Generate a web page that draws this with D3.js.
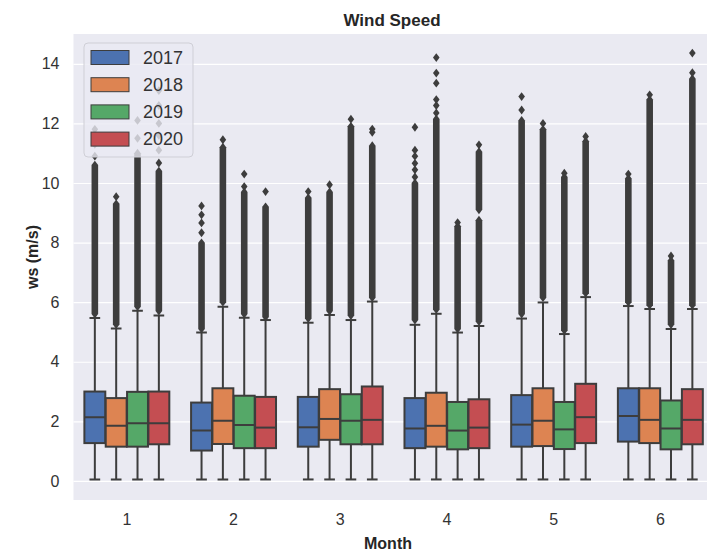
<!DOCTYPE html>
<html>
<head>
<meta charset="utf-8">
<script src="https://cdn.jsdelivr.net/npm/d3@7"></script>
<style>
  html, body { margin: 0; padding: 0; background: #ffffff; }
  svg { display: block; font-family: "Liberation Sans", Arial, sans-serif; }
</style>
</head>
<body>
<svg id="chart" width="707" height="552"></svg>
<script>
// Hourly wind speed by month, one box per year
const months = ["1", "2", "3", "4", "5", "6"];
const years = ["2017", "2018", "2019", "2020"];
const yearColors = ["#4c72b0", "#dd8452", "#55a868", "#c44e52"];
const yTicks = [0, 2, 4, 6, 8, 10, 12, 14];

// box statistics, rows = month, columns = year
const q1 = [
  [1.27, 1.15, 1.15, 1.23],
  [1.02, 1.24, 1.10, 1.10],
  [1.15, 1.38, 1.23, 1.23],
  [1.10, 1.15, 1.06, 1.10],
  [1.15, 1.17, 1.07, 1.27],
  [1.32, 1.27, 1.06, 1.23]
];
const medians = [
  [2.14, 1.85, 1.94, 1.94],
  [1.69, 2.02, 1.88, 1.79],
  [1.80, 2.08, 2.02, 2.05],
  [1.76, 1.85, 1.69, 1.79],
  [1.89, 2.02, 1.73, 2.14],
  [2.18, 2.05, 1.76, 2.05]
];
const q3 = [
  [3.00, 2.78, 2.99, 3.00],
  [2.63, 3.11, 2.86, 2.82],
  [2.82, 3.08, 2.91, 3.17],
  [2.78, 2.96, 2.65, 2.74],
  [2.88, 3.11, 2.65, 3.26],
  [3.11, 3.11, 2.70, 3.08]
];
const whiskerLow = [
  [0.05, 0.05, 0.05, 0.05],
  [0.05, 0.05, 0.05, 0.05],
  [0.05, 0.05, 0.05, 0.05],
  [0.05, 0.05, 0.05, 0.05],
  [0.05, 0.05, 0.05, 0.05],
  [0.05, 0.05, 0.05, 0.05]
];
const whiskerHigh = [
  [5.47, 5.12, 5.71, 5.55],
  [4.98, 5.85, 5.48, 5.40],
  [5.31, 5.57, 5.40, 6.02],
  [5.24, 5.61, 4.98, 5.20],
  [5.45, 5.99, 4.93, 6.17],
  [5.87, 5.77, 5.10, 5.77]
];
// stretches where outliers overlap into a continuous column: [from, to]
const flierRuns = [
  [[[5.6, 10.6]], [[5.25, 9.3]], [[5.85, 11.0]], [[5.7, 10.4]]],
  [[[5.1, 7.99]], [[6.0, 11.2]], [[5.6, 9.7]], [[5.5, 9.2]]],
  [[[5.45, 9.5]], [[5.7, 9.7]], [[5.55, 11.9]], [[6.15, 11.25]]],
  [[[5.4, 10.0]], [[5.75, 12.15]], [[5.1, 8.55]], [[5.35, 8.75], [9.1, 11.05]]],
  [[[5.6, 12.1]], [[6.15, 11.8]], [[5.05, 10.2]], [[6.3, 11.4]]],
  [[[6.0, 10.15]], [[5.9, 12.8]], [[5.25, 7.4]], [[5.9, 13.5]]]
];
// separate outliers above the columns
const flierPoints = [
  [[10.9, 11.3, 11.8], [9.54], [11.5, 12.1], [10.67, 11.1, 11.6, 12.0, 12.6, 13.1]],
  [[8.33, 8.66, 8.93, 9.23], [11.45], [9.88, 10.3], [9.71]],
  [[9.71], [9.94], [12.14], [11.7, 11.81]],
  [[10.2, 10.44, 10.66, 10.9, 11.1, 11.87], [12.35, 12.6, 12.8, 13.35, 13.69, 14.21], [8.67], [11.28]],
  [[12.45, 12.9], [12.0], [10.33], [11.56]],
  [[10.3], [12.96], [7.55], [13.7, 14.36]]
];

const plot = { left: 73.5, right: 713.7, top: 34, bottom: 500 };
const lineColor = "#3d3d3d";

const svg = d3.select("#chart");

const x = d3.scaleBand().domain(months).range([plot.left, plot.right]).paddingInner(0).paddingOuter(0);
const hue = d3.scaleBand().domain(years).range([-0.4 * x.bandwidth(), 0.4 * x.bandwidth()]);
const y = d3.scaleLinear().domain([-0.64, 15.0]).range([plot.bottom, plot.top]);
const color = d3.scaleOrdinal().domain(years).range(yearColors);

svg.append("clipPath").attr("id", "plot-clip")
  .append("rect")
  .attr("x", plot.left).attr("y", plot.top)
  .attr("width", plot.right - plot.left).attr("height", plot.bottom - plot.top);

// axes background
svg.append("rect")
  .attr("x", plot.left).attr("y", plot.top)
  .attr("width", plot.right - plot.left).attr("height", plot.bottom - plot.top)
  .attr("fill", "#eaeaf2");

// horizontal grid
const yAxis = d3.axisLeft(y).tickValues(yTicks).tickSize(-(plot.right - plot.left)).tickPadding(14);
const yg = svg.append("g").attr("transform", `translate(${plot.left},0)`).call(yAxis);
yg.select(".domain").remove();
yg.selectAll(".tick line").attr("stroke", "#ffffff").attr("stroke-width", 1.2);
yg.selectAll(".tick text").attr("fill", "#333").style("font-size", "16px");

// x axis labels only
const xAxis = d3.axisBottom(x).tickSize(0).tickPadding(14);
const xg = svg.append("g").attr("transform", `translate(0,${plot.bottom})`).call(xAxis);
xg.select(".domain").remove();
xg.selectAll(".tick text").attr("fill", "#333").style("font-size", "16px");

const marks = svg.append("g").attr("clip-path", "url(#plot-clip)");

const boxW = hue.bandwidth() * 0.98;
const capW = hue.bandwidth() * 0.5;
const dW = 3.3, dH = 4.4; // half width / half height of diamond markers

const boxes = [];
months.forEach((m, i) => {
  years.forEach((yr, j) => {
    boxes.push({
      month: m, year: yr,
      cx: x(m) + x.bandwidth() / 2 + hue(yr) + hue.bandwidth() / 2,
      q1: q1[i][j], med: medians[i][j], q3: q3[i][j],
      lo: whiskerLow[i][j], hi: whiskerHigh[i][j],
      runs: flierRuns[i][j], pts: flierPoints[i][j]
    });
  });
});

const g = marks.selectAll("g.box").data(boxes).join("g").attr("class", "box");

// whiskers
g.append("line")
  .attr("x1", d => d.cx).attr("x2", d => d.cx)
  .attr("y1", d => y(d.q1)).attr("y2", d => y(d.lo))
  .attr("stroke", lineColor).attr("stroke-width", 2);
g.append("line")
  .attr("x1", d => d.cx).attr("x2", d => d.cx)
  .attr("y1", d => y(d.q3)).attr("y2", d => y(d.hi))
  .attr("stroke", lineColor).attr("stroke-width", 2);
// caps
g.append("line")
  .attr("x1", d => d.cx - capW / 2).attr("x2", d => d.cx + capW / 2)
  .attr("y1", d => y(d.lo)).attr("y2", d => y(d.lo))
  .attr("stroke", lineColor).attr("stroke-width", 2);
g.append("line")
  .attr("x1", d => d.cx - capW / 2).attr("x2", d => d.cx + capW / 2)
  .attr("y1", d => y(d.hi)).attr("y2", d => y(d.hi))
  .attr("stroke", lineColor).attr("stroke-width", 2);
// boxes
g.append("rect")
  .attr("x", d => d.cx - boxW / 2).attr("width", boxW)
  .attr("y", d => y(d.q3)).attr("height", d => y(d.q1) - y(d.q3))
  .attr("fill", d => color(d.year))
  .attr("stroke", lineColor).attr("stroke-width", 2);
// medians
g.append("line")
  .attr("x1", d => d.cx - boxW / 2).attr("x2", d => d.cx + boxW / 2)
  .attr("y1", d => y(d.med)).attr("y2", d => y(d.med))
  .attr("stroke", lineColor).attr("stroke-width", 2);

// overlapping outliers drawn as one column with diamond ends
g.selectAll("path.run").data(d => d.runs.map(r => ({ cx: d.cx, lo: r[0], hi: r[1] })))
  .join("path").attr("class", "run")
  .attr("d", r => {
    const t = y(r.hi), b = y(r.lo);
    return `M${r.cx},${t - dH} L${r.cx + dW},${t} L${r.cx + dW},${b} L${r.cx},${b + dH} L${r.cx - dW},${b} L${r.cx - dW},${t} Z`;
  })
  .attr("fill", lineColor);

// single outliers
g.selectAll("path.flier").data(d => d.pts.map(v => ({ cx: d.cx, v })))
  .join("path").attr("class", "flier")
  .attr("d", p => {
    const cy = y(p.v);
    return `M${p.cx},${cy - dH} L${p.cx + dW},${cy} L${p.cx},${cy + dH} L${p.cx - dW},${cy} Z`;
  })
  .attr("fill", lineColor);

// legend
const legend = svg.append("g");
legend.append("rect")
  .attr("x", 84).attr("y", 43).attr("width", 109).attr("height", 114)
  .attr("rx", 4).attr("ry", 4)
  .attr("fill", "#eaeaf2").attr("fill-opacity", 0.8)
  .attr("stroke", "#cfcfd6").attr("stroke-width", 1);
const item = legend.selectAll("g.item").data(years).join("g").attr("class", "item")
  .attr("transform", (d, i) => `translate(0,${57.5 + i * 27.2})`);
item.append("rect")
  .attr("x", 91).attr("y", -7).attr("width", 38).attr("height", 14)
  .attr("fill", d => color(d)).attr("stroke", lineColor).attr("stroke-width", 1);
item.append("text")
  .attr("x", 143).attr("y", 0).attr("dy", "0.35em")
  .attr("fill", "#333").style("font-size", "18px")
  .text(d => d);

// titles
svg.append("text")
  .attr("x", 392).attr("y", 26)
  .attr("text-anchor", "middle").attr("font-weight", "bold").attr("fill", "#262626")
  .style("font-size", "17px").text("Wind Speed");
svg.append("text")
  .attr("x", 388).attr("y", 549)
  .attr("text-anchor", "middle").attr("font-weight", "bold").attr("fill", "#262626")
  .style("font-size", "16px").text("Month");
svg.append("text")
  .attr("transform", `translate(38,257) rotate(-90)`)
  .attr("text-anchor", "middle").attr("font-weight", "bold").attr("fill", "#262626")
  .style("font-size", "16px").text("ws (m/s)");
</script>
</body>
</html>
